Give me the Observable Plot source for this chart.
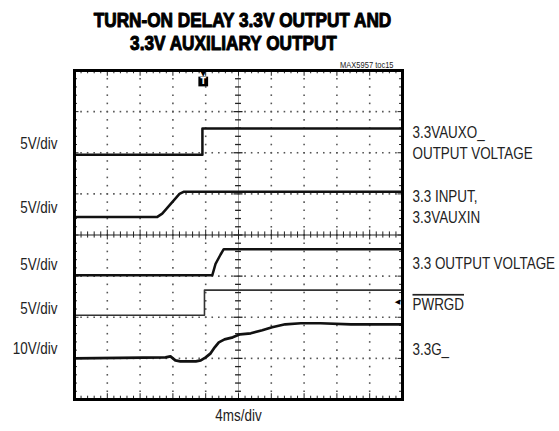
<!DOCTYPE html>
<html><head><meta charset="utf-8">
<script src="https://cdn.jsdelivr.net/npm/d3@7"></script>
<script src="https://cdn.jsdelivr.net/npm/@observablehq/plot@0.6"></script>
<style>body{margin:0;background:#fff}</style>
</head><body><div id="chart"></div>
<script>
// Time in ms (4 ms/div, 10 div), voltages in V
const auxOutT = [0, 15.6, 15.6, 40];
const auxOutV = [0, 0, 3.2, 3.2];
const inputT = [0, 10.1, 10.7, 12.8, 13.3, 40];
const inputV = [0, 0, 0.4, 2.8, 3.05, 3.05];
const outT = [0, 16.8, 17.2, 17.8, 18.2, 40];
const outV = [0, 0, 1.4, 2.5, 3.17, 3.17];
const pwrgdT = [0, 15.85, 15.85, 40];
const pwrgdV = [0, 0, 3.05, 3.05];
const gateT = [0, 11.1, 11.7, 12.3, 12.9, 14.8, 15.4, 16.0, 16.6, 17.1, 17.6, 18.3, 19.3, 20.2, 21.5, 22.9, 24.1, 25.7, 27.6, 30.0, 33.7, 40];
const gateV = [0, 0.24, 0.49, -0.49, -0.73, -0.73, -0.49, 0.24, 1.22, 2.68, 3.9, 4.63, 5.12, 5.85, 6.1, 6.83, 7.56, 8.29, 8.54, 8.54, 8.29, 8.29];

const voltsPerDiv = [5, 5, 5, 5, 10];
const groundDiv = [5.95, 4.44, 3.02, 2.05, 1.0];
const scaleLabels = ["5V/div", "5V/div", "5V/div", "5V/div", "10V/div"];
const scaleLabelDiv = [6.22, 4.66, 3.29, 2.22, 1.24];
const traceLabels = ["3.3VAUXO_\nOUTPUT VOLTAGE", "3.3 INPUT,\n3.3VAUXIN", "3.3 OUTPUT VOLTAGE", "PWRGD", "3.3G_"];
const traceLabelDiv = [6.27, 4.70, 3.34, 2.34, 1.24];
const triggerT = 15.7;
const markerDiv = 2.37;
const title1 = "TURN-ON DELAY 3.3V OUTPUT AND";
const title2 = "3.3V AUXILIARY OUTPUT";
const figId = "MAX5957 toc15";
const timeLabel = "4ms/div";

const series = [[auxOutT, auxOutV], [inputT, inputV], [outT, outV], [pwrgdT, pwrgdV], [gateT, gateV]];
const traces = series.map(([T, V], i) => T.map((t, j) => ({t, y: groundDiv[i] + V[j] / voltsPerDiv[i]})));

const msPerDiv = 4;
const minorX = d3.range(0, 10.001, 0.2).map(d => d * msPerDiv);
const minorY = d3.range(0, 8.001, 0.2);
const majorXs = d3.range(1, 10).filter(d => d !== 5).map(d => d * msPerDiv);
const majorYs = d3.range(1, 8).filter(d => d !== 4);
const vDots = majorXs.flatMap(x => minorY.map(y => ({x, y})));
const hDots = majorYs.flatMap(y => minorX.map(x => ({x, y})));
const isMajor = v => Math.abs(v - Math.round(v)) < 1e-6;

const font = "'Liberation Sans', Arial, sans-serif";
const traceStyle = [2.5, 2.5, 2.5, 1.6, 2.7];

const plot = Plot.plot({
  width: 559, height: 431,
  marginLeft: 74, marginRight: 157, marginTop: 70, marginBottom: 32,
  x: {domain: [0, 40], axis: null},
  y: {domain: [0, 8], axis: null},
  style: {fontFamily: font, background: "#fff"},
  marks: [
    Plot.dot(vDots, {x: "x", y: "y", symbol: "square", r: 0.9, fill: "#555"}),
    Plot.dot(hDots, {x: "x", y: "y", symbol: "square", r: 0.9, fill: "#555"}),
    Plot.ruleY([4], {stroke: "#222", strokeWidth: 1}),
    Plot.ruleX([20], {stroke: "#777", strokeWidth: 0.7}),
    Plot.ruleX(minorX, {x: d => d, y1: d => 4 - (isMajor(d / msPerDiv) ? 0.12 : 0.075), y2: d => 4 + (isMajor(d / msPerDiv) ? 0.12 : 0.075), stroke: "#222", strokeWidth: 1}),
    Plot.ruleY(minorY, {y: d => d, x1: d => 20 - (isMajor(d) ? 0.55 : 0.36), x2: d => 20 + (isMajor(d) ? 0.55 : 0.36), stroke: "#222", strokeWidth: 1.3}),
    Plot.ruleX(minorX, {x: d => d, y1: 8, y2: d => 8 - (isMajor(d / msPerDiv) ? 0.14 : 0.08), stroke: "#222", strokeWidth: 1}),
    Plot.ruleX(minorX, {x: d => d, y1: 0, y2: d => (isMajor(d / msPerDiv) ? 0.14 : 0.08), stroke: "#222", strokeWidth: 1}),
    Plot.ruleY(minorY, {y: d => d, x1: 0, x2: d => (isMajor(d) ? 0.55 : 0.36), stroke: "#222", strokeWidth: 1}),
    Plot.ruleY(minorY, {y: d => d, x1: 40, x2: d => 40 - (isMajor(d) ? 0.55 : 0.36), stroke: "#222", strokeWidth: 1}),
    ...traces.map((tr, i) => Plot.line(tr, {x: "t", y: "y", stroke: i === 3 ? "#333" : "#111", strokeWidth: traceStyle[i], curve: "linear"})),
    Plot.frame({stroke: "#000", strokeWidth: 3}),
    // trigger marker
    Plot.text([triggerT], {x: d => d, y: 8, text: () => "▼", dy: 3, fontSize: 7, fill: "#000", fontFamily: "DejaVu Sans"}),
    Plot.dot([triggerT], {x: d => d, y: 8, dy: 11, symbol: "square", r: 5.5, fill: "#000"}),
    Plot.text([triggerT], {x: d => d, y: 8, dy: 11, text: () => "T", fontSize: 8, fontWeight: "bold", fill: "#fff", fontFamily: "DejaVu Sans"}),
    Plot.text([markerDiv], {x: 40, y: d => d, text: () => "◀", dx: -5, fontSize: 7, fill: "#000", fontFamily: "DejaVu Sans"}),
    // labels
    Plot.text(scaleLabels, {x: 0, y: (d, i) => scaleLabelDiv[i], text: d => d, dx: -17, textAnchor: "end", fontSize: 17, fill: "#222"}),
    Plot.text(traceLabels, {x: 40, y: (d, i) => traceLabelDiv[i], text: d => d, dx: 10, textAnchor: "start", fontSize: 17, lineHeight: 1.22, fill: "#222"}),
    Plot.text([title1], {frameAnchor: "top", dx: 4, dy: -58, fontSize: 20, fontWeight: "bold", fill: "#000", stroke: "#000", strokeWidth: 1}),
    Plot.text([title2], {frameAnchor: "top", dx: -5, dy: -35, fontSize: 20, fontWeight: "bold", fill: "#000", stroke: "#000", strokeWidth: 1}),
    Plot.text([figId], {frameAnchor: "top-right", dx: -9, dy: -9, textAnchor: "end", fontSize: 9.5, fill: "#222"}),
    Plot.text([timeLabel], {frameAnchor: "bottom", dy: 21, fontSize: 17, fill: "#222"})
  ]
});
document.getElementById("chart").appendChild(plot);
// emulate the condensed face of the original
const condense = (el, f) => {
  const len = el.getComputedTextLength();
  el.setAttribute("textLength", (len * f).toFixed(2));
  el.setAttribute("lengthAdjust", "spacingAndGlyphs");
};
d3.select(plot).selectAll("text").each(function() {
  if (this.textContent.length < 3) return;
  const f = this.textContent.startsWith("TURN") || this.textContent.startsWith("3.3V AUX") ? 0.86 : 0.79;
  const spans = this.querySelectorAll("tspan");
  if (spans.length) spans.forEach(s => condense(s, f));
  else condense(this, f);
});
d3.select(plot).selectAll("text").filter(function() { return this.textContent === "PWRGD"; })
  .attr("text-decoration", "overline").style("text-decoration", "overline");
</script>
</body></html>
